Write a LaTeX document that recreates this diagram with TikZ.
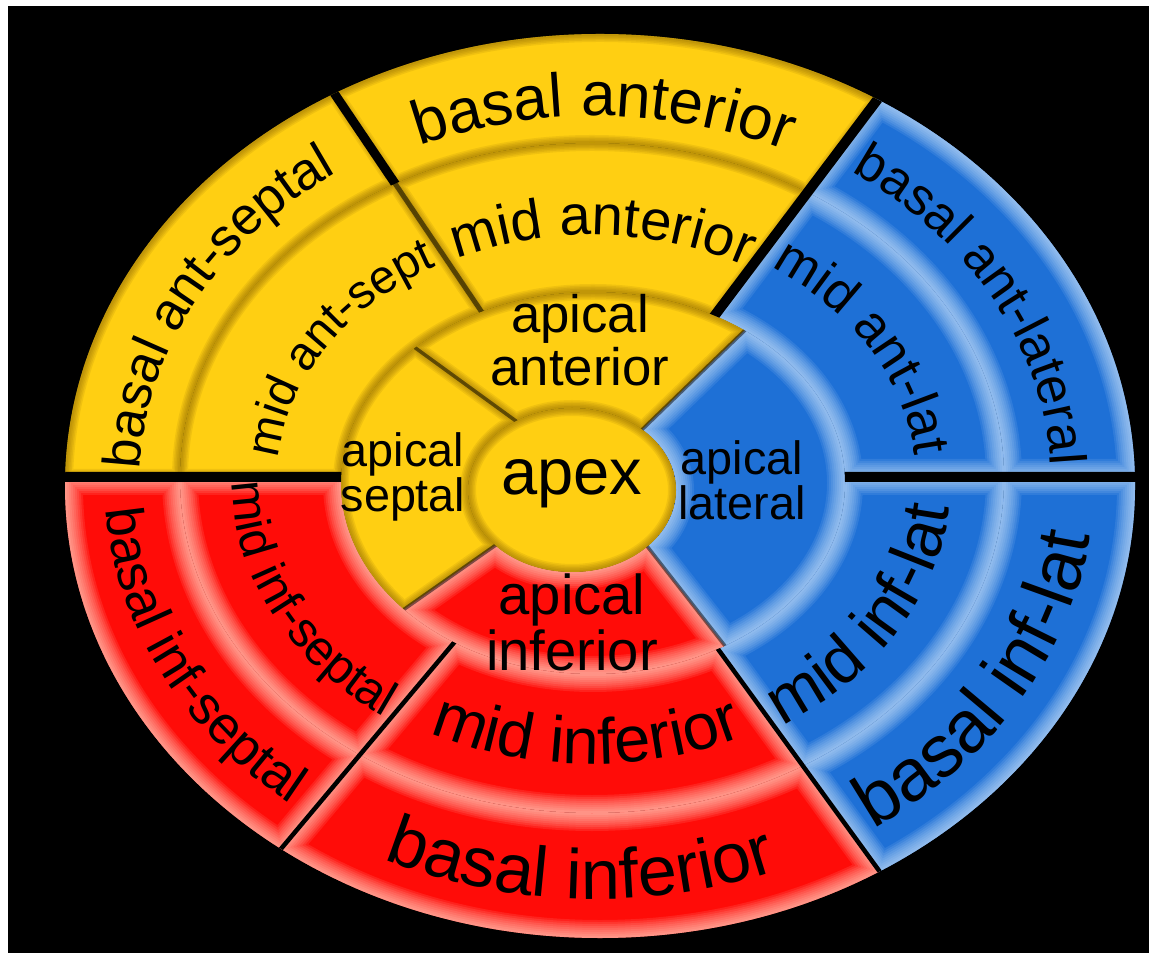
\documentclass[tikz,border=0pt]{standalone}
\usepackage{fontspec}
\setmainfont{Liberation Sans}
\usetikzlibrary{decorations.text}

\definecolor{segyellow}{RGB}{255,207,18}
\definecolor{segred}{RGB}{255,12,8}
\definecolor{segblue}{RGB}{30,112,214}
\definecolor{rimyellow}{RGB}{110,75,0}
\definecolor{rimred}{RGB}{255,235,215}
\definecolor{rimblue}{RGB}{215,235,255}

% ring boundaries (pixel units, y up)
\def\ezero{(600,-486) ellipse [x radius=535, y radius=452]}
\def\eone{(592,-478) ellipse [x radius=412, y radius=335]}
\def\etwo{(593,-483) ellipse [x radius=252, y radius=191]}
\def\ethree{(572,-490) ellipse [x radius=104, y radius=82]}

\def\softrim{3.6,3.2,2.8,2.4,2.0,1.6,1.2,0.8,0.4}
\def\darkrim{1.6,1.3,1.0,0.7,0.4}

% outer, inner, from, to, fill, rim colour, rim widths
\newcommand\segment[7]{%
  \begin{scope}[even odd rule]
    \clip (593,-477) -- ([shift={(593,-477)}]#3:1000) arc[start angle=#3, end angle=#4, radius=1000] -- cycle;
    \clip #1 #2;
    \fill[#5] (0,0) rectangle (1149,-953);
    \foreach \w in #7
      \draw[#6, opacity=0.1, line width=\w mm] #1 #2 (593,-477) -- ++(#3:1000) (593,-477) -- ++(#4:1000);
  \end{scope}}

\newcommand\setsz[1]{\fontsize{#1}{#1}\selectfont}

\begin{document}
\begin{tikzpicture}[x=0.1mm, y=0.1mm,
    arctext/.style={decorate, decoration={text along path, text align=center, text={#1}}},
    apicaltext/.style={align=center, inner sep=0pt}]
  \useasboundingbox (0,0) rectangle (1149,-953);
  \fill[white] (0,0) rectangle (1149,-953);
  \fill[black] (8,-6) rectangle (1149,-953);

  % basal
  \segment{\ezero}{\eone}{53}{124}{segyellow}{rimyellow}{\darkrim}
  \segment{\ezero}{\eone}{124}{180}{segyellow}{rimyellow}{\darkrim}
  \segment{\ezero}{\eone}{180}{230}{segred}{rimred}{\softrim}
  \segment{\ezero}{\eone}{230}{306}{segred}{rimred}{\softrim}
  \segment{\ezero}{\eone}{306}{360}{segblue}{rimblue}{\softrim}
  \segment{\ezero}{\eone}{0}{53}{segblue}{rimblue}{\softrim}
  % mid
  \segment{\eone}{\etwo}{53}{124}{segyellow}{rimyellow}{\darkrim}
  \segment{\eone}{\etwo}{124}{180}{segyellow}{rimyellow}{\darkrim}
  \segment{\eone}{\etwo}{180}{230}{segred}{rimred}{\softrim}
  \segment{\eone}{\etwo}{230}{306}{segred}{rimred}{\softrim}
  \segment{\eone}{\etwo}{306}{360}{segblue}{rimblue}{\softrim}
  \segment{\eone}{\etwo}{0}{53}{segblue}{rimblue}{\softrim}
  % apical
  \segment{\etwo}{\ethree}{44}{144}{segyellow}{rimyellow}{\darkrim}
  \segment{\etwo}{\ethree}{144}{215}{segyellow}{rimyellow}{\darkrim}
  \segment{\etwo}{\ethree}{215}{308}{segred}{rimred}{\softrim}
  \segment{\etwo}{\ethree}{308}{404}{segblue}{rimblue}{\softrim}
  % apex
  \begin{scope}
    \clip \ethree;
    \fill[segyellow] \ethree;
    \foreach \w in \darkrim
      \draw[rimyellow, opacity=0.1, line width=\w mm] \ethree;
  \end{scope}

  % gaps between segments
  \begin{scope}[even odd rule]
    \clip \ezero \etwo;
    \draw[black, line width=1mm] (593,-477) -- ++(0:1000) (593,-477) -- ++(180:1000) (593,-477) -- ++(53:1000);
    \draw[black, line width=0.45mm] (593,-477) -- ++(230:1000) (593,-477) -- ++(306:1000);
    \draw[black, opacity=0.55, line width=0.5mm] (593,-477) -- ++(124:1000);
  \end{scope}
  \begin{scope}[even odd rule]
    \clip \ezero \eone;
    \draw[black, line width=0.9mm] (593,-477) -- ++(124:1000);
  \end{scope}
  \begin{scope}[even odd rule]
    \clip \etwo \ethree;
    \draw[black, opacity=0.5, line width=0.35mm] (593,-477) -- ++(44:400) (593,-477) -- ++(144:400)
      (593,-477) -- ++(215:400) (593,-477) -- ++(308:400);
  \end{scope}

  % basal labels
  \path[arctext={|\setsz{17.6}|basal anterior}] ([shift={(596,-482)}]124:447 and 366) arc[start angle=124, end angle=54, x radius=447, y radius=366];
  \path[arctext={|\setsz{15}|basal ant-septal}] ([shift={(596,-482)}]187:456 and 376) arc[start angle=187, end angle=117, x radius=456, y radius=376];
  \path[arctext={|\setsz{14.8}|basal ant-lateral}] ([shift={(596,-482)}]64:455 and 375) arc[start angle=64, end angle=-7, x radius=455, y radius=375];
  \path[arctext={|\setsz{15.2}|basal inf-septal}] ([shift={(596,-482)}]172:491 and 411) arc[start angle=172, end angle=242, x radius=491, y radius=411];
  \path[arctext={|\setsz{20}|basal inferior}] ([shift={(596,-482)}]233:497 and 417) arc[start angle=233, end angle=303, x radius=497, y radius=417];
  \path[arctext={|\setsz{21}|basal inf-lat}] ([shift={(596,-482)}]294:498 and 418) arc[start angle=294, end angle=364, x radius=498, y radius=418];

  % mid labels
  \path[arctext={|\setsz{16}|mid anterior}] ([shift={(592,-480)}]123:314 and 245) arc[start angle=123, end angle=53, x radius=314, y radius=245];
  \path[arctext={|\setsz{13.5}|mid ant-sept}] ([shift={(592,-480)}]183:315 and 246) arc[start angle=183, end angle=113, x radius=315, y radius=246];
  \path[arctext={|\setsz{15}|mid ant-lat}] ([shift={(592,-480)}]65:324 and 255) arc[start angle=65, end angle=-5, x radius=324, y radius=255];
  \path[arctext={|\setsz{14}|mid inf-septal}] ([shift={(592,-480)}]172:360 and 290) arc[start angle=172, end angle=242, x radius=360, y radius=290];
  \path[arctext={|\setsz{18.5}|mid inferior}] ([shift={(592,-480)}]234:353 and 284) arc[start angle=234, end angle=304, x radius=353, y radius=284];
  \path[arctext={|\setsz{18.8}|mid inf-lat}] ([shift={(592,-480)}]294:359 and 290) arc[start angle=294, end angle=364, x radius=359, y radius=290];

  % apical labels
  \node[apicaltext, font=\fontsize{15}{13}\selectfont] (apant) at (580,-340) {apical\\anterior};
  \node[apicaltext, font=\fontsize{13.3}{12.8}\selectfont] (apsep) at (403,-477) {apical\\septal};
  \node[apicaltext, font=\fontsize{13.3}{12.8}\selectfont] (aplat) at (742,-480) {apical\\lateral};
  \node[apicaltext, font=\fontsize{16}{11.5}\selectfont] (apinf) at (572,-622) {apical\\inferior};
  \node[font=\setsz{18.5}, inner sep=0pt] (apex) at (572,-484) {apex};
\end{tikzpicture}
\end{document}
